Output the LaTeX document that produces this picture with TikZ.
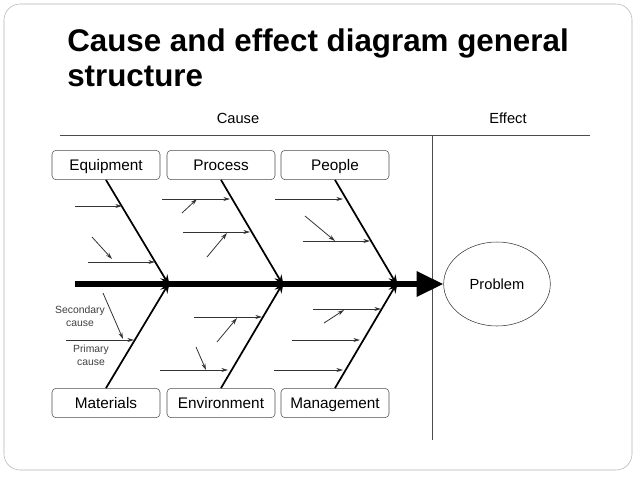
\documentclass[tikz,border=0pt]{standalone}
\usepackage{fontspec}
\setmainfont{Liberation Sans}
\usetikzlibrary{arrows.meta,shapes.geometric}
\begin{document}
\begin{tikzpicture}[x=0.75pt,y=-0.75pt,
  box/.style={draw=black!70,rounded corners=3pt,minimum width=81pt,minimum height=22pt,font=\fontsize{11.5}{13}\selectfont,inner sep=0pt,text depth=0pt,text height=8.5pt},
  bone/.style={line width=1.3pt,-{Stealth[length=9pt,width=6pt]}},
  small/.style={draw=black!80,line width=0.6pt,-{Stealth[length=5pt,width=3pt]}},
  note/.style={font=\fontsize{7.8}{9.5}\selectfont,text=black!75}]
\useasboundingbox (0,0) rectangle (638,479);
\draw[black!30,rounded corners=12pt] (4,4) rectangle (632,470);
\node[anchor=west,font=\bfseries\fontsize{23.5}{26}\selectfont,align=left,inner sep=0pt] (title) at (67,58) {Cause and effect diagram general\\structure};
\draw[black!70] (60,135) -- (590,135);
\draw[black!70] (432,135) -- (432,440);
\node[font=\fontsize{11}{12}\selectfont] (cause) at (238,118) {Cause};
\node[font=\fontsize{11}{12}\selectfont] (effect) at (508,118) {Effect};
\node[box] (eq) at (106,165) {Equipment};
\node[box] (pr) at (221,165) {Process};
\node[box] (pe) at (335,165) {People};
\node[box] (ma) at (106,403) {Materials};
\node[box] (en) at (221,403) {Environment};
\node[box] (mg) at (335,403) {Management};
\node[draw=black!80,ellipse,minimum width=80pt,minimum height=63pt,font=\fontsize{11}{12}\selectfont] (pb) at (497,284) {Problem};
\coordinate (s0) at (75,284);
\draw[line width=4.5pt,-{Triangle[length=20pt,width=18pt]}] (s0) -- (pb.west);
\coordinate (j1) at (170,284); \coordinate (j2) at (284,284); \coordinate (j3) at (398,284);
\draw[bone] (eq.south) -- ([yshift=-2]j1);
\draw[bone] (pr.south) -- ([yshift=-2]j2);
\draw[bone] (pe.south) -- ([yshift=-2]j3);
\draw[bone] (ma.north) -- ([yshift=2]j1);
\draw[bone] (en.north) -- ([yshift=2]j2);
\draw[bone] (mg.north) -- ([yshift=2]j3);
% small arrows
\draw[small] (75,206) -- (122,206);
\draw[small] (88,262) -- (155,262);
\draw[small] (92,237) -- (112,259);
\draw[small] (162,199) -- (230,199);
\draw[small] (182,213) -- (197,199);
\draw[small] (183,232) -- (250,232);
\draw[small] (207,257) -- (227,233);
\draw[small] (275,199) -- (343,199);
\draw[small] (303,241) -- (370,241);
\draw[small] (305,216) -- (335,241);
\draw[small] (66,340) -- (134,340);
\draw[small] (103,293) -- (123,339);
\draw[small] (194,317) -- (262,317);
\draw[small] (217,342) -- (237,318);
\draw[small] (160,370) -- (228,370);
\draw[small] (196,347) -- (206,370);
\draw[small] (313,309) -- (381,309);
\draw[small] (324,323) -- (344,310);
\draw[small] (292,340) -- (360,340);
\draw[small] (274,370) -- (343,370);
\node[note,align=center] (sec) at (80,316) {Secondary\\cause};
\node[note,align=center] (pri) at (91,355) {Primary\\cause};
\end{tikzpicture}
\end{document}
